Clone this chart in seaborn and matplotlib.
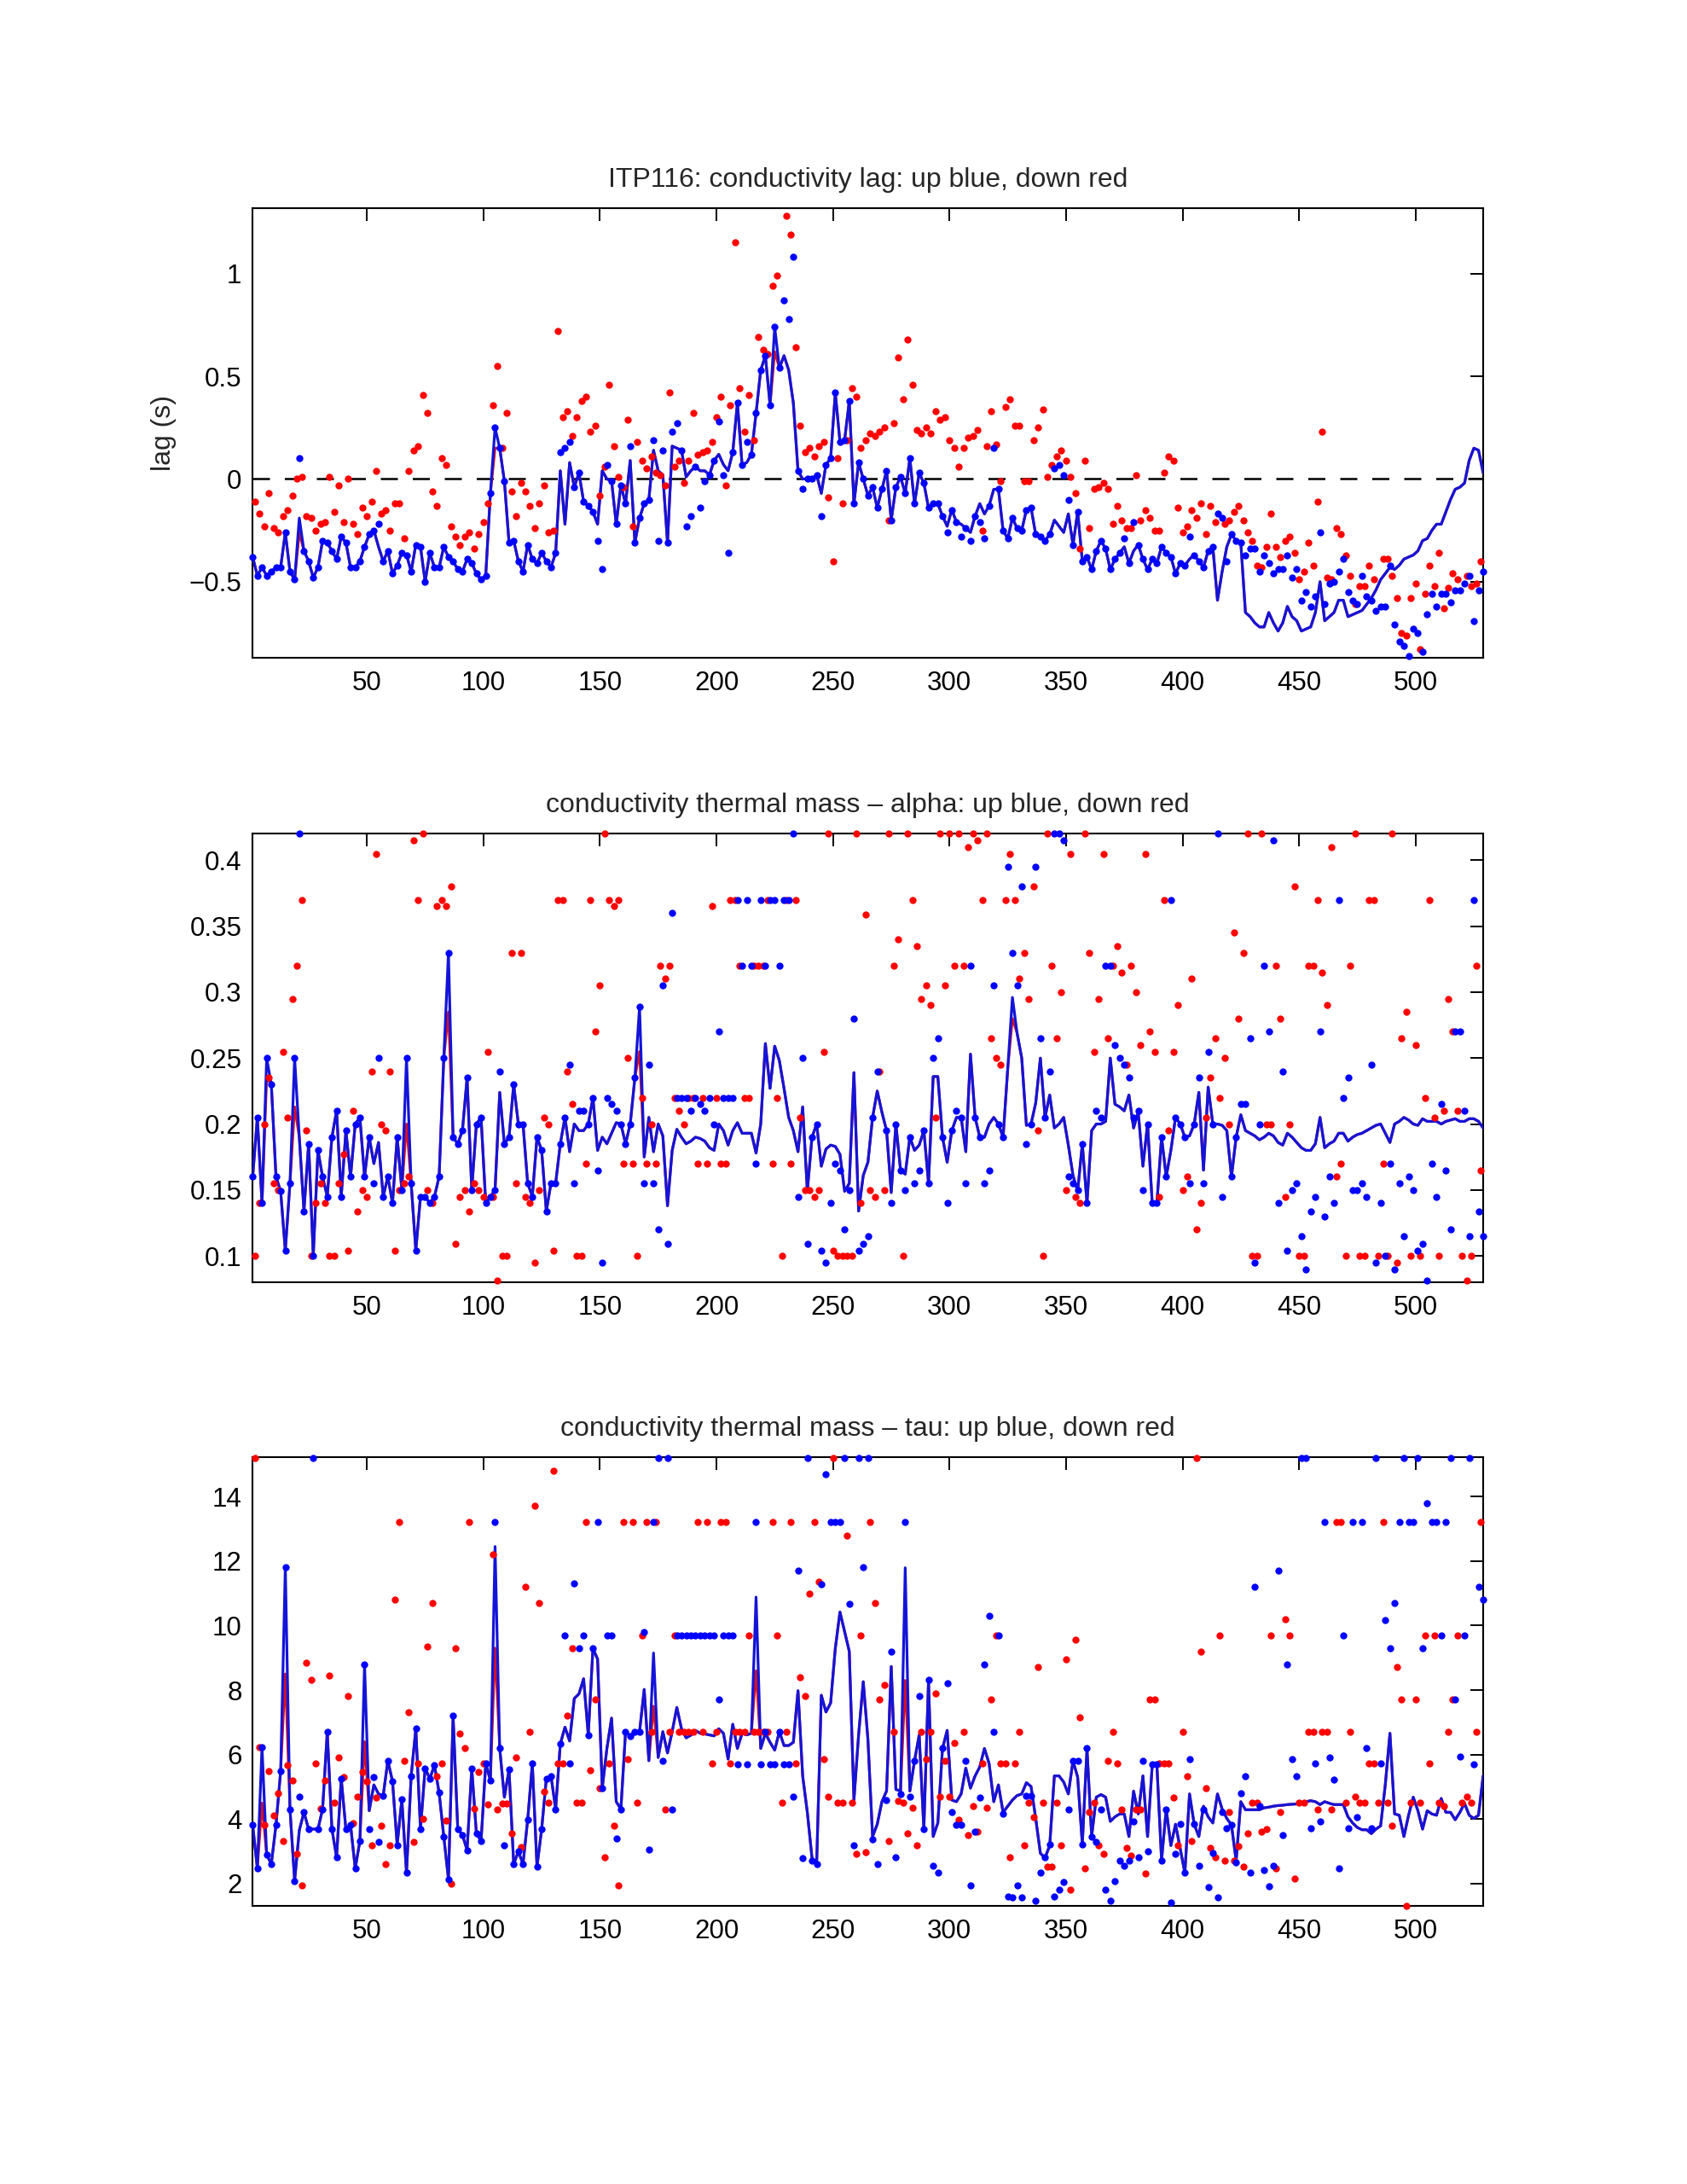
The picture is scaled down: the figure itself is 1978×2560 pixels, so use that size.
import numpy as np
import matplotlib
matplotlib.use("Agg")
import matplotlib.pyplot as plt
import seaborn as sns

sns.set_style("white")
plt.rcParams["font.family"] = ["Liberation Sans", "DejaVu Sans"]

nan = np.nan

# ---------------- profile numbers ----------------
x_up = np.arange(1, 530, 2)   # up profiles (blue)
x_dn = np.arange(2, 529, 2)   # down profiles (red)

# ---------------- panel 1: conductivity lag ----------------
lag_line = [
    -0.38,-0.47,-0.43,-0.47,-0.45,-0.43,-0.43,-0.26,-0.45,-0.49,
    -0.19,-0.35,-0.40,-0.48,-0.43,-0.30,-0.31,-0.35,-0.39,-0.28,
    -0.31,-0.43,-0.43,-0.40,-0.33,-0.27,-0.25,-0.33,-0.40,-0.35,
    -0.46,-0.42,-0.36,-0.37,-0.45,-0.32,-0.33,-0.50,-0.36,-0.43,
    -0.43,-0.33,-0.38,-0.40,-0.44,-0.45,-0.39,-0.41,-0.46,-0.49,
    -0.47,-0.07,0.25,0.15,-0.01,-0.31,-0.30,-0.40,-0.45,-0.32,
    -0.39,-0.41,-0.36,-0.40,-0.43,-0.36,0.04,-0.22,0.08,-0.04,
    0.03,-0.11,-0.13,-0.16,-0.22,0.04,0.00,-0.01,-0.22,-0.03,
    -0.12,0.09,-0.31,-0.19,-0.12,-0.10,0.14,0.04,0.02,-0.31,
    0.16,0.15,0.14,0.01,0.04,0.06,0.04,0.04,0.02,0.09,
    0.12,0.07,0.04,0.13,0.37,0.07,0.08,0.12,0.32,0.53,
    0.60,0.36,0.74,0.54,0.60,0.53,0.37,0.04,0.00,0.00,
    0.00,0.02,-0.07,0.07,0.10,0.42,0.18,0.19,0.38,-0.12,
    0.08,0.00,-0.08,-0.04,-0.14,-0.05,0.04,-0.20,-0.04,0.01,
    -0.07,0.10,-0.12,0.03,-0.02,-0.14,-0.12,-0.12,-0.18,-0.23,
    -0.15,-0.21,-0.22,-0.24,-0.26,-0.18,-0.12,-0.17,-0.13,-0.05,
    -0.05,-0.25,-0.29,-0.19,-0.24,-0.25,-0.15,-0.14,-0.27,-0.28,
    -0.30,-0.27,-0.20,-0.23,-0.26,-0.17,-0.32,-0.16,-0.40,-0.38,
    -0.44,-0.35,-0.30,-0.34,-0.44,-0.39,-0.36,-0.33,-0.41,-0.35,
    -0.32,-0.39,-0.44,-0.39,-0.41,-0.33,-0.36,-0.38,-0.46,-0.41,
    -0.42,-0.39,-0.37,-0.40,-0.43,-0.35,-0.33,-0.59,-0.45,-0.33,
    -0.27,-0.30,-0.31,-0.65,-0.67,-0.70,-0.72,-0.72,-0.65,-0.70,
    -0.74,-0.70,-0.62,-0.67,-0.69,-0.74,-0.73,-0.72,-0.65,-0.50,
    -0.69,-0.67,-0.65,-0.59,-0.59,-0.67,-0.66,-0.65,-0.64,-0.61,
    -0.58,-0.54,-0.49,-0.46,-0.43,-0.44,-0.42,-0.39,-0.38,-0.37,
    -0.35,-0.30,-0.29,-0.25,-0.22,-0.22,-0.16,-0.10,-0.05,-0.04,
    -0.02,0.09,0.15,0.14,0.03]
lag_line_red_diff = {21: -0.26, 105: 0.15, 225: 0.62}
lag_up_diff = {
    21:0.10, 55:-0.22, 133:0.13, 135:0.15, 137:0.18, 149:-0.30, 151:-0.44, 153:0.07,
    163:0.16, 173:0.19, 175:-0.30, 177:0.14, 181:0.23, 183:0.27, 187:-0.23, 189:-0.18,
    193:-0.14, 195:-0.01, 201:0.28, 203:0.02, 205:-0.36, 213:0.18, 229:0.87, 231:0.78,
    233:1.08, 237:-0.05, 245:-0.18, 299:-0.26, 305:-0.28, 309:-0.30, 313:-0.21, 315:-0.29,
    319:0.15, 345:0.05, 347:0.07, 349:0.02, 351:-0.10, 375:-0.29, 379:-0.21, 403:-0.28,
    415:-0.17, 417:-0.19, 419:-0.40, 421:-0.27, 423:-0.30, 427:-0.37, 429:-0.34, 431:-0.34,
    433:-0.45, 435:-0.37, 437:-0.41, 439:-0.46, 441:-0.44, 443:-0.44, 445:-0.37, 447:-0.48,
    449:-0.44, 451:-0.59, 453:-0.55, 455:-0.62, 457:-0.57, 459:-0.26, 461:-0.61, 463:-0.51,
    465:-0.50, 467:-0.45, 469:-0.39, 471:-0.55, 473:-0.59, 475:-0.61, 477:-0.47, 479:-0.57,
    481:-0.59, 483:-0.64, 485:-0.62, 487:-0.62, 489:-0.42, 491:-0.71, 493:-0.79, 495:-0.81,
    497:-0.86, 499:-0.73, 501:-0.75, 503:-0.84, 505:-0.66, 507:-0.56, 509:-0.62, 511:-0.56,
    513:-0.56, 515:-0.60, 517:-0.54, 519:-0.54, 521:-0.51, 523:-0.47, 525:-0.69, 527:-0.54,
    529:-0.45}
lag_dn = [
    -0.11,-0.17,-0.23,-0.07,-0.24,-0.26,-0.18,-0.15,-0.08,0.00,
    0.01,-0.18,-0.19,-0.25,-0.22,-0.21,0.01,-0.16,-0.03,-0.21,
    0.00,-0.22,-0.27,-0.14,-0.18,-0.11,0.04,-0.17,-0.15,-0.25,
    -0.12,-0.12,-0.29,0.04,0.14,0.16,0.41,0.32,-0.06,-0.13,
    0.10,0.07,-0.23,-0.28,-0.32,-0.28,-0.26,-0.34,-0.27,-0.21,
    -0.12,0.36,0.55,0.15,0.32,-0.06,-0.18,-0.02,-0.06,-0.13,
    -0.24,-0.12,-0.03,-0.26,-0.25,0.72,0.30,0.33,0.21,0.30,
    0.38,0.40,0.23,0.26,-0.08,0.06,0.46,0.16,0.01,-0.04,
    0.29,-0.23,0.18,0.09,0.05,0.11,0.03,0.02,-0.03,0.42,
    0.06,0.09,-0.02,0.09,0.32,0.12,0.13,0.14,0.18,0.30,
    0.40,-0.03,0.36,1.15,0.44,0.23,0.41,0.19,0.69,0.63,
    0.61,0.94,0.99,nan,1.28,1.19,0.64,0.26,0.13,0.15,
    0.11,0.16,0.18,-0.09,-0.40,0.10,-0.12,0.19,0.44,0.40,
    0.15,0.19,0.22,0.21,0.23,0.25,-0.20,0.27,0.59,0.39,
    0.68,0.46,0.24,0.22,0.25,0.22,0.33,0.29,0.30,0.19,
    0.15,0.06,0.15,0.20,0.21,0.24,-0.25,0.16,0.33,0.17,
    -0.01,0.35,0.39,0.26,0.26,-0.01,-0.01,0.19,0.25,0.34,
    0.01,0.07,0.11,0.14,0.09,0.01,-0.07,-0.34,0.09,-0.24,
    -0.05,-0.04,-0.02,-0.05,-0.22,-0.13,-0.20,-0.24,-0.24,0.02,
    -0.20,-0.15,-0.19,-0.25,-0.25,0.03,0.11,0.09,-0.14,-0.26,
    -0.23,-0.15,-0.19,-0.12,-0.27,-0.13,-0.21,nan,-0.22,-0.20,
    -0.16,-0.13,-0.20,-0.26,-0.30,-0.42,-0.43,-0.33,-0.17,-0.33,
    -0.38,-0.30,-0.28,-0.36,-0.49,-0.45,-0.31,-0.42,-0.11,0.23,
    -0.48,-0.49,-0.24,-0.27,-0.37,-0.47,-0.61,-0.52,-0.52,-0.42,
    -0.49,nan,-0.39,-0.39,-0.47,-0.58,-0.75,-0.76,-0.58,-0.51,
    -0.83,-0.56,-0.42,-0.52,-0.36,-0.63,-0.53,-0.46,-0.49,nan,
    -0.47,-0.52,-0.51,-0.40]

# ---------------- panel 2: thermal mass alpha ----------------
alpha_line = [
    0.160,0.205,0.140,0.250,0.230,0.160,0.149,0.104,0.155,0.250,
    0.190,0.134,0.185,0.100,0.180,0.160,0.145,0.190,0.210,0.145,
    0.195,0.160,0.200,0.205,0.160,0.190,0.170,0.186,0.145,0.160,
    0.140,0.190,0.150,0.250,0.155,0.104,0.145,0.145,0.140,0.145,
    0.160,0.250,0.330,0.190,0.185,0.195,0.235,0.150,0.200,0.205,
    0.140,0.145,0.150,0.224,0.185,0.190,0.230,0.200,0.200,0.155,
    0.145,0.190,0.180,0.134,0.155,0.155,0.185,0.205,0.179,0.200,
    0.195,0.195,0.200,0.220,0.180,0.190,0.185,0.193,0.201,0.200,
    0.185,0.200,0.235,0.289,0.175,0.205,0.179,0.200,0.191,0.138,
    0.180,0.196,0.190,0.185,0.187,0.190,0.189,0.187,0.182,0.180,
    0.200,0.195,0.184,0.195,0.201,0.193,0.193,0.193,0.178,0.200,
    0.261,0.227,0.259,0.248,0.227,0.205,0.195,0.179,0.213,0.149,
    0.190,0.200,0.168,0.181,0.184,0.183,0.177,0.149,0.155,0.239,
    0.134,0.161,0.171,0.205,0.225,0.209,0.195,0.148,0.200,0.165,
    0.162,0.190,0.180,0.184,0.195,0.155,0.236,0.236,0.190,0.171,
    0.195,0.205,0.205,0.179,0.253,0.205,0.190,0.190,0.200,0.205,
    0.200,0.190,0.242,0.296,0.269,0.250,0.199,0.200,0.216,0.250,
    0.205,0.222,0.197,0.200,0.205,0.184,0.161,0.149,0.185,0.140,
    0.195,0.200,0.200,0.202,0.250,0.215,0.213,0.210,0.222,0.197,
    0.209,0.168,0.200,0.140,0.140,0.190,0.160,0.180,0.205,0.200,
    0.190,0.191,0.200,0.224,0.165,0.228,0.200,0.200,0.199,0.195,
    0.160,0.190,0.207,0.195,0.193,0.191,0.188,0.190,0.193,0.191,
    0.186,0.184,0.193,0.190,0.186,0.182,0.180,0.180,0.185,0.205,
    0.182,0.185,0.187,0.193,0.193,0.187,0.190,0.192,0.193,0.195,
    0.197,0.199,0.200,0.193,0.186,0.200,0.202,0.205,0.203,0.200,
    0.199,0.204,0.202,0.202,0.202,0.200,0.202,0.203,0.204,0.202,
    0.202,0.204,0.204,0.202,0.197]
alpha_line_red_diff = {7: 0.235, 19: 0.213, 67: 0.20, 85: 0.285, 167: 0.255, 327: 0.28}
alpha_up = [
    0.160,0.205,0.140,0.250,0.230,0.160,0.149,0.104,0.155,0.250,
    0.420,0.134,0.185,0.100,0.180,0.160,0.145,0.190,0.210,0.145,
    0.195,0.160,0.200,0.205,0.160,0.190,0.155,0.250,0.145,0.160,
    0.140,0.190,0.150,0.250,0.155,0.104,0.145,0.145,0.140,0.145,
    0.160,0.250,0.330,0.190,0.185,0.195,0.235,0.150,0.200,0.205,
    0.140,0.145,0.150,0.240,0.185,0.190,0.230,0.200,0.200,0.155,
    0.145,0.190,0.180,0.134,0.155,0.155,0.185,0.205,0.245,0.155,
    0.210,0.210,0.200,0.220,0.165,0.095,0.220,0.215,0.210,0.200,
    0.185,0.200,0.235,0.289,0.155,0.245,0.155,0.120,0.305,0.109,
    0.36,0.22,0.22,0.22,0.21,0.22,0.215,0.21,0.22,0.20,
    0.27,0.22,0.22,0.22,0.37,0.32,0.37,0.32,0.17,0.37,
    0.32,0.37,0.37,0.32,0.37,0.37,0.42,0.145,0.25,0.109,
    0.19,0.20,0.104,0.095,0.14,0.17,0.165,0.12,0.15,0.28,
    0.104,0.109,0.115,0.205,0.24,nan,0.195,0.14,0.20,0.165,
    0.15,0.19,0.155,0.165,0.195,0.155,0.25,0.265,0.19,0.14,
    0.195,0.21,0.205,0.155,0.32,0.205,0.19,0.155,0.165,0.305,
    0.20,0.19,0.395,0.33,0.305,0.38,0.185,0.20,0.395,0.265,
    0.205,0.24,0.42,0.42,0.415,0.16,0.155,0.15,0.185,0.14,
    nan,0.21,0.205,0.32,0.32,0.26,0.25,0.245,0.235,0.205,
    0.21,0.15,0.20,0.14,0.14,0.19,0.16,0.37,0.205,0.20,
    0.19,0.155,0.20,0.235,0.155,0.255,0.20,0.42,0.145,nan,
    0.16,0.19,0.215,0.215,0.265,0.095,0.20,0.32,0.27,0.415,
    0.14,0.24,0.104,0.15,0.155,0.115,0.09,0.134,0.145,0.27,
    0.13,0.16,0.14,0.37,0.22,0.235,0.15,0.15,0.155,0.145,
    0.245,0.095,0.14,0.10,0.17,0.09,0.155,0.115,0.16,0.15,
    0.104,0.109,0.081,0.17,0.145,0.215,0.165,0.12,0.27,0.27,
    0.21,0.115,0.37,0.134,0.115]
alpha_dn = [
    0.10,0.14,0.20,0.235,0.155,0.15,0.255,0.205,0.295,0.32,
    0.37,0.195,0.10,0.14,0.155,0.14,0.10,0.10,0.155,0.177,
    0.104,0.21,0.134,0.15,0.145,0.24,0.405,0.20,0.195,0.24,
    0.104,0.15,0.155,0.16,0.415,0.37,0.42,0.15,0.14,0.365,
    0.37,0.365,0.38,0.109,0.145,0.15,0.134,0.155,0.15,0.145,
    0.255,0.145,0.081,0.10,0.10,0.33,0.155,0.33,0.145,0.14,
    0.095,0.15,0.205,0.20,0.104,0.37,0.37,0.24,0.215,0.10,
    0.10,0.17,0.37,0.27,0.305,0.42,0.37,0.365,0.37,0.17,
    0.25,0.17,0.10,0.22,0.17,0.20,0.17,0.32,0.31,0.32,
    0.22,0.21,0.20,0.22,0.22,0.17,0.22,0.17,0.365,0.22,
    0.17,0.17,0.37,0.37,0.32,0.22,0.22,0.32,0.32,0.32,
    0.37,0.17,0.22,0.10,0.37,0.17,0.37,0.205,0.15,0.15,
    0.145,0.15,0.255,0.42,0.104,0.10,0.10,0.10,0.10,0.42,
    0.14,0.359,0.15,0.145,0.24,0.15,0.42,0.32,0.34,0.10,
    0.42,0.37,0.335,0.295,0.305,0.29,0.205,0.42,0.305,0.42,
    0.32,0.42,0.32,0.41,0.42,0.415,0.37,0.42,0.265,0.25,
    0.245,0.37,0.405,0.37,0.31,0.33,0.295,0.38,0.195,0.10,
    0.42,0.32,0.265,0.30,0.15,0.405,0.145,0.14,0.42,0.33,
    0.255,0.295,0.405,0.265,0.32,0.335,0.315,0.245,0.32,0.30,
    0.26,0.405,0.27,0.255,0.145,0.37,0.195,0.255,0.29,0.15,
    0.16,0.31,0.12,0.14,0.205,0.235,0.265,0.22,0.25,0.20,
    0.345,0.28,0.33,0.42,0.10,0.10,0.42,0.20,0.20,0.32,
    0.28,0.145,0.20,0.38,0.10,0.10,0.32,0.32,0.37,0.315,
    0.29,0.41,0.16,0.17,0.10,0.32,0.42,0.10,0.10,0.37,
    0.37,0.10,0.17,0.10,0.42,0.095,0.265,0.285,0.10,0.26,
    0.10,0.22,0.37,0.205,0.10,0.21,0.295,0.27,0.21,0.10,
    0.081,0.10,0.32,0.165]

# ---------------- panel 3: thermal mass tau ----------------
tau_line = [
    3.82,2.47,6.24,2.89,2.61,3.82,5.48,11.82,4.31,2.09,
    3.65,4.21,3.69,3.69,3.69,4.31,6.71,3.69,2.82,5.25,
    3.69,3.82,2.47,3.32,8.80,4.26,5.06,4.78,4.73,5.81,
    5.17,3.20,4.61,2.33,5.34,6.80,3.69,5.58,5.25,5.67,
    4.82,3.46,2.14,7.20,3.69,3.51,3.04,5.58,3.55,3.32,
    5.72,5.20,12.45,6.19,4.68,5.53,2.61,2.99,2.61,3.98,
    5.72,2.52,3.69,5.25,5.34,4.31,6.33,6.85,6.42,7.74,
    7.88,8.35,6.61,9.29,8.96,4.96,6.19,7.13,4.54,4.31,
    6.71,6.58,6.71,6.71,8.02,5.81,9.15,5.91,6.71,6.05,
    6.71,7.46,6.80,6.52,6.60,6.75,6.66,6.64,6.61,6.58,
    6.80,6.66,5.86,6.94,6.19,6.66,6.61,6.66,10.88,6.19,
    6.66,6.38,6.14,6.71,6.28,6.28,6.38,7.98,5.34,4.21,
    2.80,2.61,7.84,7.32,7.60,9.29,10.42,9.81,9.20,4.59,
    6.61,8.26,6.47,3.46,3.84,4.54,4.87,8.73,4.92,4.87,
    11.79,4.87,5.81,6.61,3.69,8.31,3.46,3.88,6.19,6.75,
    4.59,4.54,4.78,5.58,4.96,5.34,5.62,6.19,5.72,4.54,
    5.06,4.21,4.40,4.59,4.73,4.78,5.13,5.01,4.02,2.94,
    2.80,3.18,5.34,5.34,5.15,4.78,5.81,5.30,3.22,6.19,
    3.46,4.68,4.76,4.68,3.93,4.07,4.16,4.16,3.46,4.87,
    4.16,5.34,3.46,5.67,5.67,2.72,4.31,3.18,3.84,3.08,
    2.33,4.78,3.84,3.46,4.40,4.07,3.88,4.78,4.31,4.02,
    3.82,2.71,4.54,4.29,4.29,4.29,4.29,4.35,4.37,4.40,
    4.42,4.43,4.45,4.46,4.47,4.49,4.54,4.57,4.54,4.45,
    4.54,4.49,4.45,4.45,4.45,4.07,3.88,3.74,3.67,3.67,
    3.55,3.69,3.79,5.06,6.66,4.16,4.12,3.46,4.12,4.68,
    4.26,3.69,4.26,4.16,4.12,4.64,4.21,4.21,3.98,4.21,
    4.49,4.12,4.02,4.12,5.34]
tau_line_red_diff = {5: 4.5, 15: 8.5, 49: 6.4, 105: 9.3, 173: 7.5, 217: 8.6, 281: 8.3}
tau_up = [
    3.82,2.47,6.24,2.89,2.61,3.82,5.48,11.82,4.31,2.09,
    4.70,4.21,3.69,15.2,3.69,4.31,6.71,3.69,2.82,5.25,
    3.69,3.82,2.47,3.32,8.80,3.69,5.29,3.29,4.73,5.81,
    5.17,3.20,4.61,2.33,5.34,6.80,3.69,5.58,5.25,5.67,
    4.82,3.46,2.14,7.20,3.69,3.51,3.04,5.58,3.55,3.32,
    5.72,5.20,13.2,6.19,3.20,5.53,2.61,2.99,2.61,3.98,
    5.72,2.52,3.69,5.25,5.34,4.31,6.33,9.70,5.72,11.3,
    9.29,9.70,6.61,9.29,13.2,4.96,9.70,9.70,3.41,4.31,
    6.71,6.56,6.71,6.71,9.80,3.05,13.2,15.2,5.81,15.2,
    4.31,9.7,9.7,9.7,9.7,9.7,9.7,9.7,9.7,9.7,
    7.71,9.7,9.7,9.7,5.70,nan,5.70,nan,13.2,5.70,
    6.71,5.70,5.70,6.71,5.70,5.70,4.70,11.69,2.80,15.2,
    2.71,2.61,11.29,14.7,13.2,13.2,13.2,15.2,10.66,3.18,
    15.2,11.82,15.2,3.36,2.61,nan,4.59,9.2,2.82,4.78,
    13.2,4.7,5.81,7.81,3.69,8.31,2.55,2.33,6.21,8.21,
    4.21,3.82,3.82,5.81,1.95,3.6,4.66,8.8,10.31,6.71,
    9.7,4.16,1.6,1.58,1.95,1.58,4.73,4.73,1.48,2.33,
    2.82,3.22,1.6,1.81,2.05,4.31,5.81,5.81,3.22,6.21,
    3.46,3.29,4.31,1.81,1.46,2.07,2.71,2.56,2.71,3.93,
    2.82,5.81,3.01,5.7,5.7,2.72,4.31,1.41,2.92,3.84,
    2.33,5.86,3.84,2.56,4.31,1.88,2.94,1.58,4.21,3.72,
    3.82,2.66,4.8,5.32,2.35,11.2,4.4,2.42,1.91,2.56,
    11.71,3.51,8.8,5.86,5.32,15.2,15.2,3.72,5.72,3.93,
    13.2,5.91,5.23,2.47,9.7,3.72,13.2,4.07,13.2,6.21,
    3.72,15.2,5.72,10.16,9.29,10.7,13.2,15.2,13.2,13.2,
    15.2,9.29,13.79,13.2,13.2,9.7,13.2,15.2,7.71,5.95,
    9.7,15.2,5.7,11.2,10.8]
tau_dn = [
    15.2,6.24,3.82,5.48,4.12,4.80,3.31,5.67,5.20,2.92,
    1.95,8.85,8.31,5.72,4.32,5.20,8.45,4.51,5.91,5.31,
    7.81,3.88,4.70,5.45,5.17,3.20,4.66,3.79,2.61,3.20,
    10.8,13.2,5.81,7.30,3.29,5.72,4.00,9.36,10.7,5.32,
    5.72,3.95,2.00,9.29,6.66,6.21,13.2,4.32,5.45,5.72,
    4.45,12.2,4.31,4.49,4.49,3.55,5.91,3.13,11.2,6.71,
    13.7,10.7,4.85,4.51,14.8,5.72,5.72,7.20,9.29,4.51,
    4.51,13.2,5.51,7.71,4.96,2.82,5.72,3.79,1.95,13.2,
    5.86,13.2,4.51,9.70,13.2,6.71,13.2,nan,4.31,6.71,
    9.7,6.71,6.71,6.71,6.71,13.2,6.71,13.2,5.72,6.71,
    13.2,13.2,5.72,6.71,6.71,6.71,9.7,6.71,6.71,6.71,
    6.71,13.2,9.7,4.51,6.71,13.2,5.72,8.4,7.81,11.0,
    13.2,11.35,5.86,4.7,15.2,4.51,4.51,12.8,4.51,2.91,
    9.7,2.97,13.2,10.7,7.71,8.16,3.32,6.71,4.57,4.51,
    3.55,4.35,3.2,6.71,5.86,6.71,7.9,4.7,5.81,4.7,
    6.36,3.98,6.71,3.51,4.4,3.6,5.72,4.35,7.71,9.7,
    5.72,5.72,2.82,5.72,6.71,3.18,4.51,4.07,8.71,4.51,
    2.52,2.52,4.51,3.2,8.96,1.81,9.55,7.15,2.47,4.21,
    4.51,3.2,2.91,5.81,6.71,5.72,4.31,3.1,2.88,4.31,
    4.31,2.31,7.71,7.71,5.72,5.72,5.72,4.66,3.2,6.71,
    5.32,3.32,15.2,9.2,4.96,3.1,2.82,9.7,2.71,4.21,
    2.71,3.16,2.52,3.55,4.51,4.51,3.6,3.69,9.7,2.47,
    4.21,10.2,9.7,2.16,4.51,4.51,6.71,6.71,4.31,6.71,
    6.71,4.31,13.2,13.2,4.51,6.71,4.7,4.51,4.51,5.72,
    5.72,4.51,13.2,4.51,3.79,8.71,7.71,1.32,4.51,7.71,
    4.51,9.7,5.72,9.7,4.51,4.4,6.71,7.71,9.7,4.51,
    4.7,4.51,6.71,13.2]


def fit(values, n):
    v = list(values)[:n]
    v += [nan] * (n - len(v))
    return np.array(v, dtype=float)


def with_diff(base, xs, diff):
    out = np.array(base, dtype=float).copy()
    for k, val in diff.items():
        idx = np.where(xs == k)[0]
        if len(idx):
            out[idx[0]] = val
    return out


n_up, n_dn = len(x_up), len(x_dn)

panels = [
    dict(line=fit(lag_line, n_up), red_diff=lag_line_red_diff,
         up=with_diff(fit(lag_line, n_up), x_up, lag_up_diff), dn=fit(lag_dn, n_dn),
         ylim=(-0.870, 1.318), yticks=[-0.5, 0, 0.5, 1],
         ylabels=["\u22120.5", "0", "0.5", "1"],
         title="ITP116: conductivity lag: up blue, down red", ylabel="lag (s)", zero=True),
    dict(line=fit(alpha_line, n_up), red_diff=alpha_line_red_diff,
         up=fit(alpha_up, n_up), dn=fit(alpha_dn, n_dn),
         ylim=(0.080, 0.4203), yticks=[0.1, 0.15, 0.2, 0.25, 0.3, 0.35, 0.4],
         ylabels=["0.1", "0.15", "0.2", "0.25", "0.3", "0.35", "0.4"],
         title="conductivity thermal mass \u2013 alpha: up blue, down red", ylabel=None, zero=False),
    dict(line=fit(tau_line, n_up), red_diff=tau_line_red_diff,
         up=fit(tau_up, n_up), dn=fit(tau_dn, n_dn),
         ylim=(1.31, 15.22), yticks=[2, 4, 6, 8, 10, 12, 14],
         ylabels=["2", "4", "6", "8", "10", "12", "14"],
         title="conductivity thermal mass \u2013 tau: up blue, down red", ylabel=None, zero=False),
]

W, H = 1978, 2560
fig = plt.figure(figsize=(W / 100, H / 100), dpi=100)
fig.patch.set_facecolor("white")

left_px, right_px = 296, 1739
tops = [244, 977, 1708]
bottoms = [771, 1503, 2234]

xticks = [50, 100, 150, 200, 250, 300, 350, 400, 450, 500]

for p, top, bot in zip(panels, tops, bottoms):
    ax = fig.add_axes([left_px / W, 1 - bot / H, (right_px - left_px) / W, (bot - top) / H])
    ax.set_facecolor("white")
    if p["zero"]:
        ax.axhline(0, color="black", lw=1.8, ls=(0, (8, 7)), zorder=1)
    red_line = with_diff(p["line"], x_up, p["red_diff"])
    sns.lineplot(x=x_up, y=red_line, color="#d81020", lw=2.2, ax=ax,
                 estimator=None, sort=False, zorder=2)
    sns.lineplot(x=x_up, y=p["line"], color="#1414d8", lw=2.3, ax=ax,
                 estimator=None, sort=False, zorder=3)
    sns.scatterplot(x=x_dn, y=p["dn"], color="#ff0000", s=36, linewidth=0,
                    ax=ax, zorder=4, clip_on=False)
    sns.scatterplot(x=x_up, y=p["up"], color="#0000ff", s=36, linewidth=0,
                    ax=ax, zorder=5, clip_on=False)
    ax.set_xlim(0.9, 529)
    ax.set_ylim(*p["ylim"])
    ax.set_xticks(xticks)
    ax.set_xticklabels([str(t) for t in xticks])
    ax.set_yticks(p["yticks"])
    ax.set_yticklabels(p["ylabels"])
    ax.tick_params(axis="both", direction="in", length=11, width=1.4,
                   top=True, right=True, labelsize=22.5, colors="black")
    ax.tick_params(axis="x", pad=11)
    ax.tick_params(axis="y", pad=9)
    for s in ax.spines.values():
        s.set_visible(True)
        s.set_color("black")
        s.set_linewidth(1.5)
    ax.set_title(p["title"], fontsize=23, pad=18)
    ax.set_xlabel("")
    if p["ylabel"]:
        ax.set_ylabel(p["ylabel"], fontsize=23)
        ax.yaxis.set_label_coords(-0.0617, 0.5)
    else:
        ax.set_ylabel("")
    ax.grid(False)

fig.savefig("out.png", dpi=100, facecolor="white")
